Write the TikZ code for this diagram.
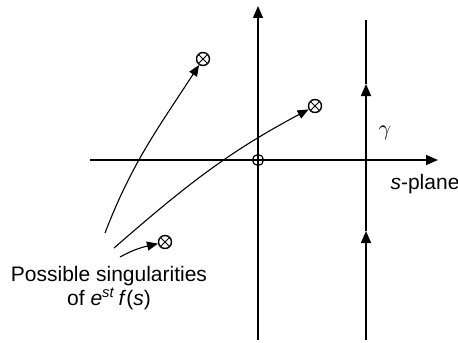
\documentclass[tikz,border=0pt]{standalone}
\usepackage{fontspec}
\setmainfont{Liberation Sans}
\usetikzlibrary{arrows.meta,positioning}

\begin{document}
\begin{tikzpicture}[x=0.5pt,y=-0.5pt,>={Triangle[length=6pt,width=5pt]},
    sing/.style={draw,circle,minimum size=6.5pt,inner sep=0pt,line width=0.7pt,
      path picture={\draw[line width=0.5pt] (path picture bounding box.north west)--(path picture bounding box.south east)
        (path picture bounding box.north east)--(path picture bounding box.south west);}},
    axis/.style={->,line width=0.65pt},
    gam/.style={->,line width=0.9pt},
    feed/.style={->,line width=0.55pt,>={Triangle[length=5.5pt,width=4.5pt]}}]
      \useasboundingbox (0,0) rectangle (458,342);
      \fontsize{10.5}{12}\selectfont
      % axes
      \coordinate (xl) at (90,160);
      \coordinate (xr) at (438,160);
      \coordinate (yb) at (258,340);
      \coordinate (yt) at (258,6);
      \draw[axis] (xl)--(xr);
      \draw[axis] (yb)--(yt);
      \node[draw,circle,minimum size=5.5pt,inner sep=0pt,line width=0.6pt] (o) at (258,160) {};
      % contour gamma
      \coordinate (gb) at (366,340);
      \coordinate (g1) at (366,231);
      \coordinate (g2) at (366,84);
      \coordinate (gt) at (366,20);
      \draw[gam] (gb)--(g1);
      \draw[gam] (g1)--(g2);
      \draw[gam,-] (g2)--(gt);
      \node (gl) at (385,133) {$\gamma$};
      \node (sp) at (425,184) {\textit{s}-plane};
      % singularities
      \node[sing] (p1) at (203,59) {};
      \node[sing] (p2) at (315,106) {};
      \node[sing] (p3) at (165,242) {};
      \node[align=center] (lbl) at (109,288) {Possible singularities\\of \textit{e}\textsuperscript{\textit{st}}\,\textit{f}(\textit{s})};
      \coordinate (c1) at (105,233);
      \coordinate (c2) at (114,248);
      \coordinate (c3) at (120,257);
      \draw[feed] (c1) to[out=69,in=237] (p1);
      \draw[feed] (c2) to[out=41,in=208] (p2);
      \draw[feed] (c3) to[out=29,in=193] (p3);
    \end{tikzpicture}
\end{document}
